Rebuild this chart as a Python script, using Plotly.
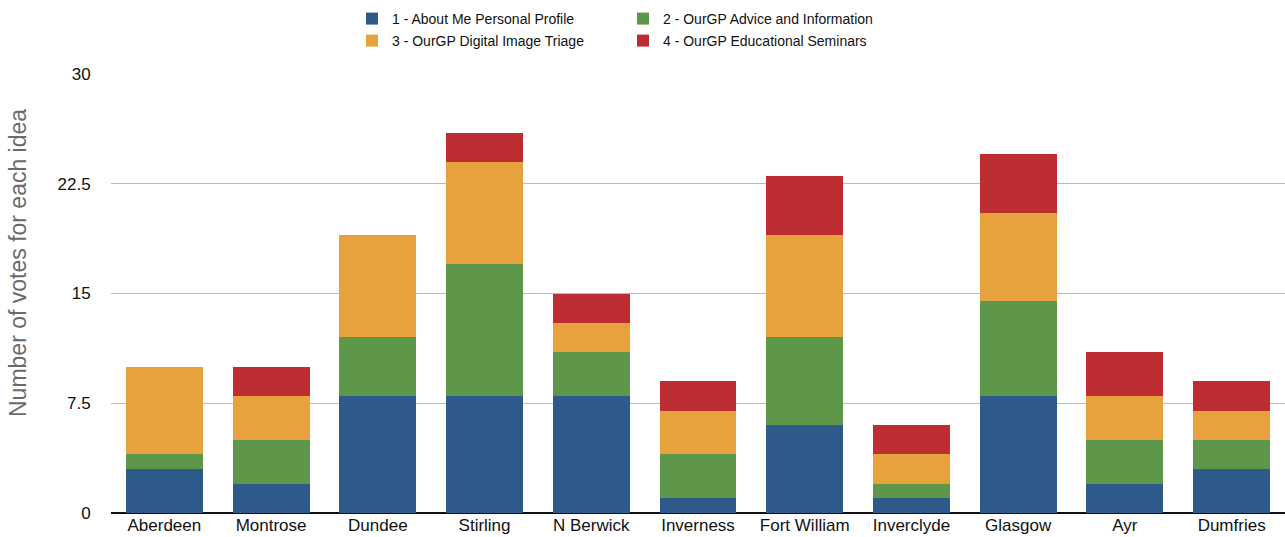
import plotly.graph_objects as go

categories = ["Aberdeen", "Montrose", "Dundee", "Stirling", "N Berwick", "Inverness",
              "Fort William", "Inverclyde", "Glasgow", "Ayr", "Dumfries"]
about_me = [3, 2, 8, 8, 8, 1, 6, 1, 8, 2, 3]
advice = [1, 3, 4, 9, 3, 3, 6, 1, 6.5, 3, 2]
triage = [6, 3, 7, 7, 2, 3, 7, 2, 6, 3, 2]
seminars = [0, 2, 0, 2, 2, 2, 4, 2, 4, 3, 2]
y_ticks = [0, 7.5, 15, 22.5, 30]
y_tick_labels = ["0", "7.5", "15", "22.5", "30"]
y_title = "Number of votes for each idea"

series = [
    ("1 - About Me Personal Profile", about_me, "#2E598B", "legend"),
    ("2 - OurGP Advice and Information", advice, "#5E9749", "legend"),
    ("3 - OurGP Digital Image Triage", triage, "#E7A23D", "legend2"),
    ("4 - OurGP Educational Seminars", seminars, "#BD2D31", "legend2"),
]

FONT = "Liberation Sans, Arial, Helvetica, sans-serif"

fig = go.Figure()
for name, vals, color, lg in series:
    fig.add_trace(go.Bar(x=categories, y=vals, name=name, marker_color=color,
                         marker_line_width=0, legend=lg))

legend_common = dict(orientation="h", xanchor="left", yanchor="middle",
                     xref="container", yref="container",
                     font=dict(family=FONT, size=14, color="#111111"),
                     entrywidth=226, bgcolor="rgba(0,0,0,0)", traceorder="normal")

fig.update_layout(
    width=1285, height=537,
    margin=dict(l=111, r=0, t=74, b=24),
    barmode="stack", bargap=0.28,
    plot_bgcolor="white", paper_bgcolor="white",
    font=dict(family=FONT),
    legend=dict(x=352 / 1285, y=1 - 19 / 537, **legend_common),
    legend2=dict(x=352 / 1285, y=1 - 41 / 537, **legend_common),
    showlegend=True,
    xaxis=dict(range=[-0.5, 10.5], showgrid=False, ticks="",
               tickfont=dict(size=17, color="#111111", family=FONT),
               showline=False, zeroline=False, automargin=False),
    yaxis=dict(range=[0, 30], tickvals=y_ticks, ticktext=y_tick_labels,
               showgrid=True, gridcolor="#BBBBBB", gridwidth=1,
               zeroline=True, zerolinecolor="#111111", zerolinewidth=2,
               ticks="outside", ticklen=16, tickcolor="rgba(0,0,0,0)",
               tickfont=dict(size=17, color="#111111", family=FONT),
               automargin=False),
    annotations=[dict(text=y_title, textangle=-90, showarrow=False,
                      xref="paper", yref="paper", x=(18 - 111) / 1174, y=(513 - 263) / 439,
                      xanchor="center", yanchor="middle",
                      font=dict(size=23, color="#6A6A6A", family=FONT))],
)

fig.write_html("out.html")
